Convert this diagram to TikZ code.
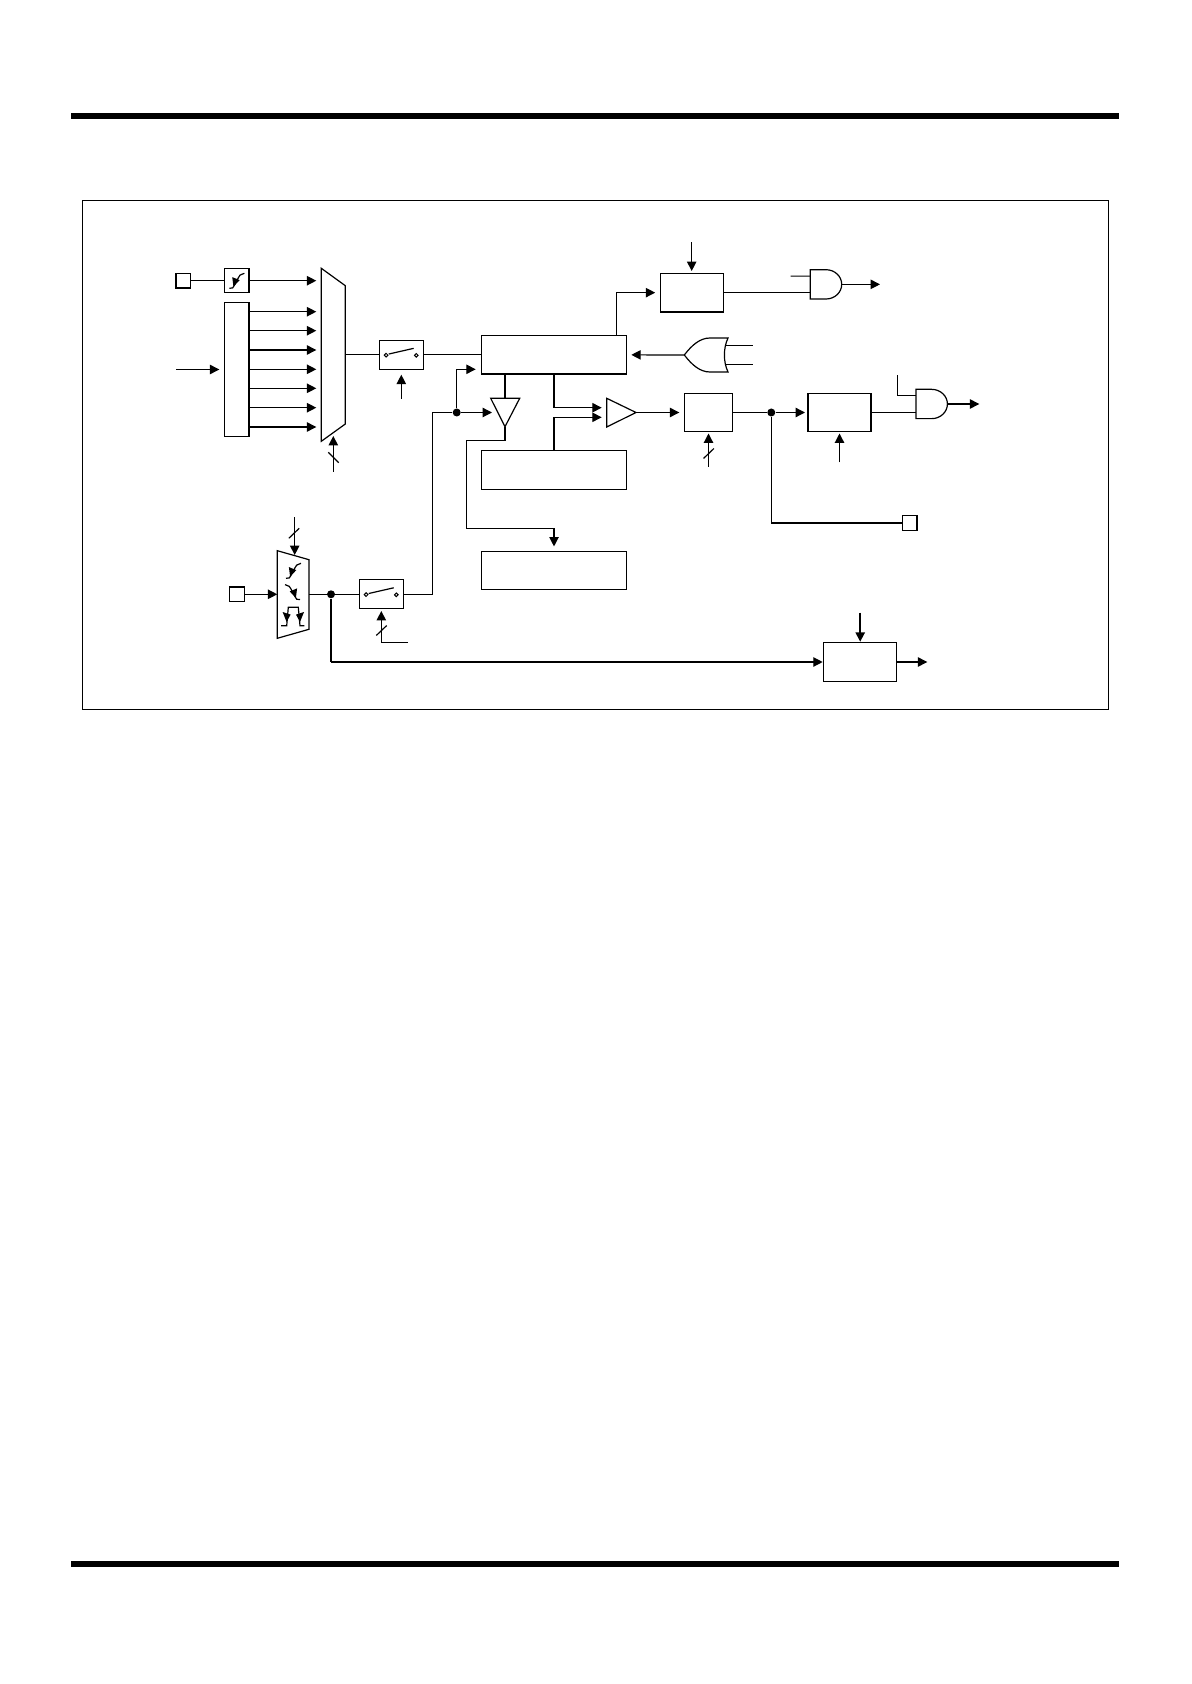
\documentclass[tikz,border=0pt]{standalone}
\usetikzlibrary{arrows.meta}

\tikzset{
  block/.style={draw,rectangle,inner sep=0pt,outer sep=0pt},
  pad/.style={block,minimum width=7.35pt,minimum height=7.35pt},
  switch/.style={block,minimum width=22pt,minimum height=14.5pt},
  wide/.style={block,minimum width=72.8pt,minimum height=19.2pt},
  junction/.style={circle,fill,inner sep=0pt,minimum size=4pt},
  sig/.style={->,shorten >=2.5pt},
  % slew mark inside the small boxes
  wedge/.pic={
    \draw (-7.3,7.6) -- (-4,7.2) .. controls (-2.4,5.5) and (1.6,-3.5) .. (3.4,-5.6) .. controls (4.6,-6.8) and (6,-7.3) .. (7.7,-7.4);
    \fill (-4.4,-3.6) -- (3,-0.6) -- (-3.2,6) -- cycle;
  },
  andgate/.pic={
    \draw (-15.7,-14.65) -- (0,-14.65) arc[start angle=-90,end angle=90,x radius=15.7,y radius=14.65]
          -- (-15.7,14.65) -- cycle;
    \coordinate (-inA) at (-15.7,-8.2);
    \coordinate (-inB) at (-15.7,8.2);
    \coordinate (-out) at (15.7,0);
  }
}

\begin{document}
\begin{tikzpicture}[x=0.5pt,y=-0.5pt,
					line width=0.6pt,
					>={Triangle[length=4.7pt,width=4.7pt]}]

  \useasboundingbox (0,0) rectangle (1191,1684);

  % page rules and frame
  \fill (71,112.7) rectangle (1119,119);
  \fill (71,1561) rectangle (1119,1567);
  \draw[line width=0.5pt] (82.3,201) rectangle (1108.3,709.3);

  \node[pad] (padA) at (183.3,280.7) {};
  \node[pad] (padB) at (236.8,594.3) {};
  \node[pad] (padC) at (909.7,523) {};

  \node[block,minimum width=12.35pt,minimum height=12.2pt] (slew) at (236.65,280.7) {};
  \node[block,minimum width=12.35pt,minimum height=67.2pt] (gen) at (236.65,369.5) {};
  \node[switch] (swA) at (401.3,354.85) {};
  \node[switch] (swB) at (381.3,594.3) {};
  \node[wide] (main) at (554,354.85) {};
  \node[wide] (disp) at (554,470) {};
  \node[wide] (edge) at (554,570.65) {};
  \node[block,minimum width=31.5pt,minimum height=19.3pt] (timer) at (691.7,292.65) {};
  \node[block,minimum width=24.2pt,minimum height=19.2pt] (delay) at (708.5,412.5) {};
  \node[block,minimum width=31.5pt,minimum height=19.2pt] (latch) at (839.5,412.5) {};
  \node[block,minimum width=36.5pt,minimum height=19.3pt] (count) at (860.2,662) {};

  \node[junction] (dotA) at (456.7,412.5) {};
  \node[junction] (dotB) at (331,594.3) {};
  \node[junction] (dotC) at (771.3,412.5) {};

  % selectors and triangles
  \draw (321.3,268.3) -- (345.3,285.7) -- (345.3,424) -- (321.3,441.3) -- cycle;
  \draw (277.3,550.7) -- (309,559.7) -- (309,629.3) -- (277.3,638.3) -- cycle;
  \draw (490.7,398.3) -- (519.7,398.3) -- (505,426.7) -- cycle;
  \draw (606.7,398.3) -- (636,412.5) -- (606.7,427) -- cycle;

  \coordinate (muxIn) at (321.3,369.5);
  \coordinate (muxOut) at (345.3,354.85);
  \coordinate (muxSel) at (333.3,436);
  \coordinate (muxSelEnd) at (333.3,471.7);
  \coordinate (edgeIn) at (277.3,594.3);
  \coordinate (edgeOut) at (309,594.3);
  \coordinate (edgeSel) at (294.7,555);
  \coordinate (edgeSelEnd) at (294.7,517.3);
  \coordinate (bufTop) at (505,398.3);
  \coordinate (bufTip) at (505,426.7);
  \coordinate (bufIn) at (497,412.5);
  \coordinate (ampInA) at (606.7,407.7);
  \coordinate (ampInB) at (606.7,417.3);
  \coordinate (ampOut) at (636,412.5);
  \coordinate (mainTap) at (616.7,335.7);
  \coordinate (mainIn) at (480.7,369.3);
  \coordinate (mainOr) at (626.3,354.85);
  \coordinate (turn) at (432.7,412.5);
  \coordinate (bendA) at (466.3,440.7);
  \coordinate (bendB) at (466.3,528.3);
  \coordinate (genIn) at (176,369.5);

  % slew marks
  \pic at (236.65,280.7) {wedge};
  \pic at (293.3,570.7) {wedge};
  \pic[xscale=-1] at (292.7,592) {wedge};
  \draw (281,625.7) -- (286.7,625.7) -- (288.3,607.3) -- (298.3,607.3) -- (300,625.7) -- (304.3,625.7);
  \fill (282.6,612) -- (290.6,614.6) -- (286.6,622) -- cycle;
  \fill (304,612) -- (296,614.6) -- (300,622) -- cycle;

  % switch contacts
  \foreach \sw in {swA,swB} {
    \draw[line width=0.5pt] (\sw.center) ++(-15.2,0.3) circle[radius=1.8];
    \draw[line width=0.5pt] (\sw.center) ++(15,0.5) circle[radius=1.8];
    \draw (\sw.center) ++(-12.6,-0.8) -- ++(25,-5.7);
  }

  % gates
  \pic (andA) at (826,284.35) {andgate};
  \pic (andB) at (931.7,404) {andgate};
  \draw (684.3,355) coordinate (orOut) .. controls (692,345) and (700,338) .. (710,338) -- (728,338)
        coordinate (orTop) .. controls (723.2,348) and (723.2,362) .. (728,372) -- (710,372)
        .. controls (700,372) and (692,365) .. (orOut);
  \coordinate (orInA) at (725.5,345.3);
  \coordinate (orInB) at (725.5,364.6);
  \coordinate (orEndA) at (752.7,345.3);
  \coordinate (orEndB) at (752.7,364.6);

  % free ends
  \coordinate (andAEnd) at (790.7,276.15);
  \coordinate (andAOut) at (880,284.35);
  \coordinate (andBEnd) at (897.3,375.3);
  \coordinate (andBOut) at (979.3,404);
  \coordinate (timerEnd) at (691.7,242.3);
  \coordinate (timerHit) at (691.7,271);
  \coordinate (swAEnd) at (401.3,399);
  \coordinate (swAHit) at (401.3,374.7);
  \coordinate (swBEnd) at (408,642.3);
  \coordinate (swBTurn) at (381.3,642.3);
  \coordinate (swBHit) at (381.3,611);
  \coordinate (delayEnd) at (708.5,466.7);
  \coordinate (delayHit) at (708.5,433.5);
  \coordinate (latchEnd) at (839.5,462.3);
  \coordinate (latchHit) at (839.5,433.5);
  \coordinate (countEnd) at (860.2,612.7);
  \coordinate (countHit) at (860.2,641.7);
  \coordinate (countOut) at (927.3,662);
  \coordinate (dotBEnd) at (331,662);
  \coordinate (dotCEnd) at (771.3,523);

  % connectors
  \draw (padA) -- (slew);
  \draw[sig] (slew.east) -- (slew.east -| muxIn);
  \foreach \y in {311.7,330.7,350,369.3,388.3,407.7,427} {
    \draw[sig] (gen.east |- 0,\y) -- (muxIn |- 0,\y);
  }
  \draw[sig] (genIn) -- (gen.west);
  \draw[->] (muxSelEnd) -- (muxSel);
  \draw (muxOut) -- (swA);
  \draw (swA) -- (main);
  \draw[->] (swAEnd) -- (swAHit);
  \draw[->] (padB) -- (edgeIn);
  \draw[->] (edgeSelEnd) -- (edgeSel);
  \draw (edgeOut) -- (swB);
  \draw (swB.east) -| (turn) -- (dotA);
  \draw[sig] (dotA) -- (bufIn);
  \draw[sig] (dotA) |- (mainIn);
  \draw (main.south -| bufTop) -- (bufTop);
  \draw[sig] (bufTip) |- (bendA) -- (bendB) -| (edge.north);
  \draw[sig] (main.south) |- (ampInA);
  \draw[sig] (disp.north) |- (ampInB);
  \draw[sig] (ampOut) -- (delay.west);
  \draw (delay) -- (dotC);
  \draw[->,shorten >=1.5pt] (dotC) -- (latch);
  \draw (dotC) |- (dotCEnd) -- (padC);
  \draw[sig] (mainTap) |- (timer.west);
  \draw[sig] (orOut) -- (mainOr);
  \draw (orInA) -- (orEndA);
  \draw (orInB) -- (orEndB);
  \draw (timer.east) -- (timer.east -| andA-inB);
  \draw (andAEnd) -- (andA-inA);
  \draw[->] (andA-out) -- (andAOut);
  \draw (latch.east) -- (latch.east -| andB-inB);
  \draw (andBEnd) |- (andB-inA);
  \draw[->] (andB-out) -- (andBOut);
  \draw[->] (timerEnd) -- (timerHit);
  \draw[->] (swBEnd) -- (swBTurn) -- (swBHit);
  \draw[->] (delayEnd) -- (delayHit);
  \draw[->] (latchEnd) -- (latchHit);
  \draw[->,line width=0.8pt] (countEnd) -- (countHit);
  \draw (dotB) -- (dotBEnd);
  \draw[->,shorten >=0.5pt] (dotBEnd) -- (dotBEnd -| count.west);
  \draw[->] (count.east) -- (countOut);
  \draw (edgeOut) -- (dotB);

  % bus marks
  \draw (328.3,452.3) -- (338.7,462.7);
  \foreach \bx/\by in {294/533.3,381.5/630.5,708.7/453.5} {
    \draw (\bx,\by) ++(-5.2,5) -- ++(10.4,-10);
  }
\end{tikzpicture}
\end{document}
